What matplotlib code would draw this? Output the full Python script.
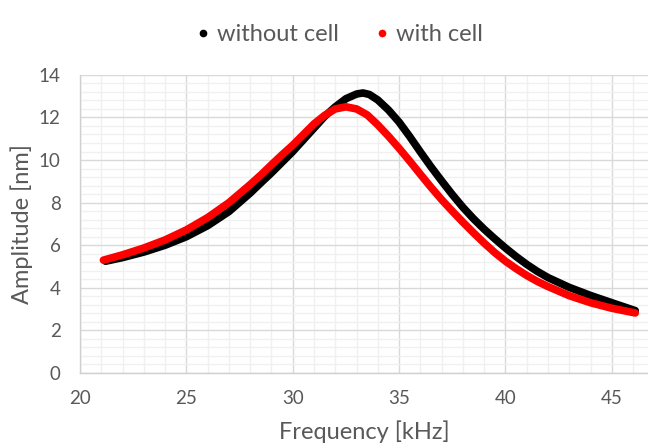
import matplotlib
matplotlib.use("Agg")
import matplotlib.pyplot as plt
from matplotlib.ticker import MultipleLocator
from matplotlib.lines import Line2D

plt.rcParams['font.family'] = ['Lato', 'DejaVu Sans']

# readings (kHz, nm)
freq_without = [21.2, 22, 23, 24, 25, 26, 27, 28, 28.5, 29, 29.5, 30, 30.5, 31,
                31.5, 32, 32.5, 33, 33.3, 33.6, 34, 34.5, 35, 35.5, 36, 36.5, 37,
                37.5, 38, 38.5, 39, 39.5, 40, 40.5, 41, 41.5, 42, 43, 44, 45, 46.1]
amp_without = [5.25, 5.42, 5.68, 6.0, 6.4, 6.92, 7.58, 8.45, 8.93, 9.4, 9.9, 10.4, 10.95, 11.5,
               12.05, 12.5, 12.88, 13.1, 13.15, 13.08, 12.82, 12.35, 11.78, 11.1, 10.38, 9.68, 9.02,
               8.38, 7.78, 7.24, 6.75, 6.3, 5.87, 5.47, 5.1, 4.77, 4.48, 4.02, 3.64, 3.3, 2.93]

freq_with = [21.1, 22, 23, 24, 25, 26, 27, 28, 28.5, 29, 29.5, 30, 30.5, 31,
             31.5, 32, 32.5, 33, 33.5, 34, 34.5, 35, 35.5, 36, 36.5, 37, 37.5,
             38, 38.5, 39, 39.5, 40, 40.5, 41, 41.5, 42, 43, 44, 45, 46.1]
amp_with = [5.3, 5.55, 5.87, 6.25, 6.72, 7.3, 8.0, 8.85, 9.3, 9.78, 10.25, 10.7, 11.2, 11.7,
            12.1, 12.4, 12.5, 12.4, 12.12, 11.65, 11.12, 10.55, 9.95, 9.33, 8.72, 8.14, 7.6,
            7.08, 6.58, 6.1, 5.65, 5.25, 4.9, 4.58, 4.3, 4.06, 3.63, 3.3, 3.04, 2.82]

labels = ['without cell', 'with cell']
colors = ['black', '#ff0000']
text_color = '#595959'

fig = plt.figure(figsize=(6.48, 4.43), dpi=100)
ax = fig.add_axes([0.1235, 0.158, 0.8765, 0.673])

ax.plot(freq_without, amp_without, color=colors[0], lw=5.5, solid_capstyle='round',
        solid_joinstyle='round', zorder=3)
ax.plot(freq_with, amp_with, color=colors[1], lw=5.5, solid_capstyle='round',
        solid_joinstyle='round', zorder=4)

ax.set_xlim(20, 46.7)
ax.set_ylim(0, 14)
ax.xaxis.set_major_locator(MultipleLocator(5))
ax.xaxis.set_minor_locator(MultipleLocator(1))
ax.yaxis.set_major_locator(MultipleLocator(2))
ax.yaxis.set_minor_locator(MultipleLocator(0.4))
ax.grid(which='major', color='#d9d9d9', lw=1.0)
ax.grid(which='minor', color='#f0f0f0', lw=1.0)
ax.set_axisbelow(True)

for side in ['top', 'right']:
    ax.spines[side].set_visible(False)
for side in ['left', 'bottom']:
    ax.spines[side].set_color('#d0d0d0')
    ax.spines[side].set_linewidth(1.0)

ax.tick_params(which='both', length=0, labelsize=13.5, colors=text_color)
ax.tick_params(axis='x', pad=12)
ax.tick_params(axis='y', pad=14)
ax.set_xlabel('Frequency [kHz]', fontsize=17, color=text_color, labelpad=10)
ax.set_ylabel('Amplitude [nm]', fontsize=17, color=text_color, labelpad=4)

handles = [Line2D([], [], ls='none', marker='o', ms=4.5, color=c) for c in colors]
fig.legend(handles, labels, loc='center', bbox_to_anchor=(0.52, 0.922), ncol=2,
           frameon=False, fontsize=17, labelcolor=text_color, handletextpad=0.1,
           columnspacing=1.3, handlelength=1.0)

fig.savefig('out.png', dpi=100)
